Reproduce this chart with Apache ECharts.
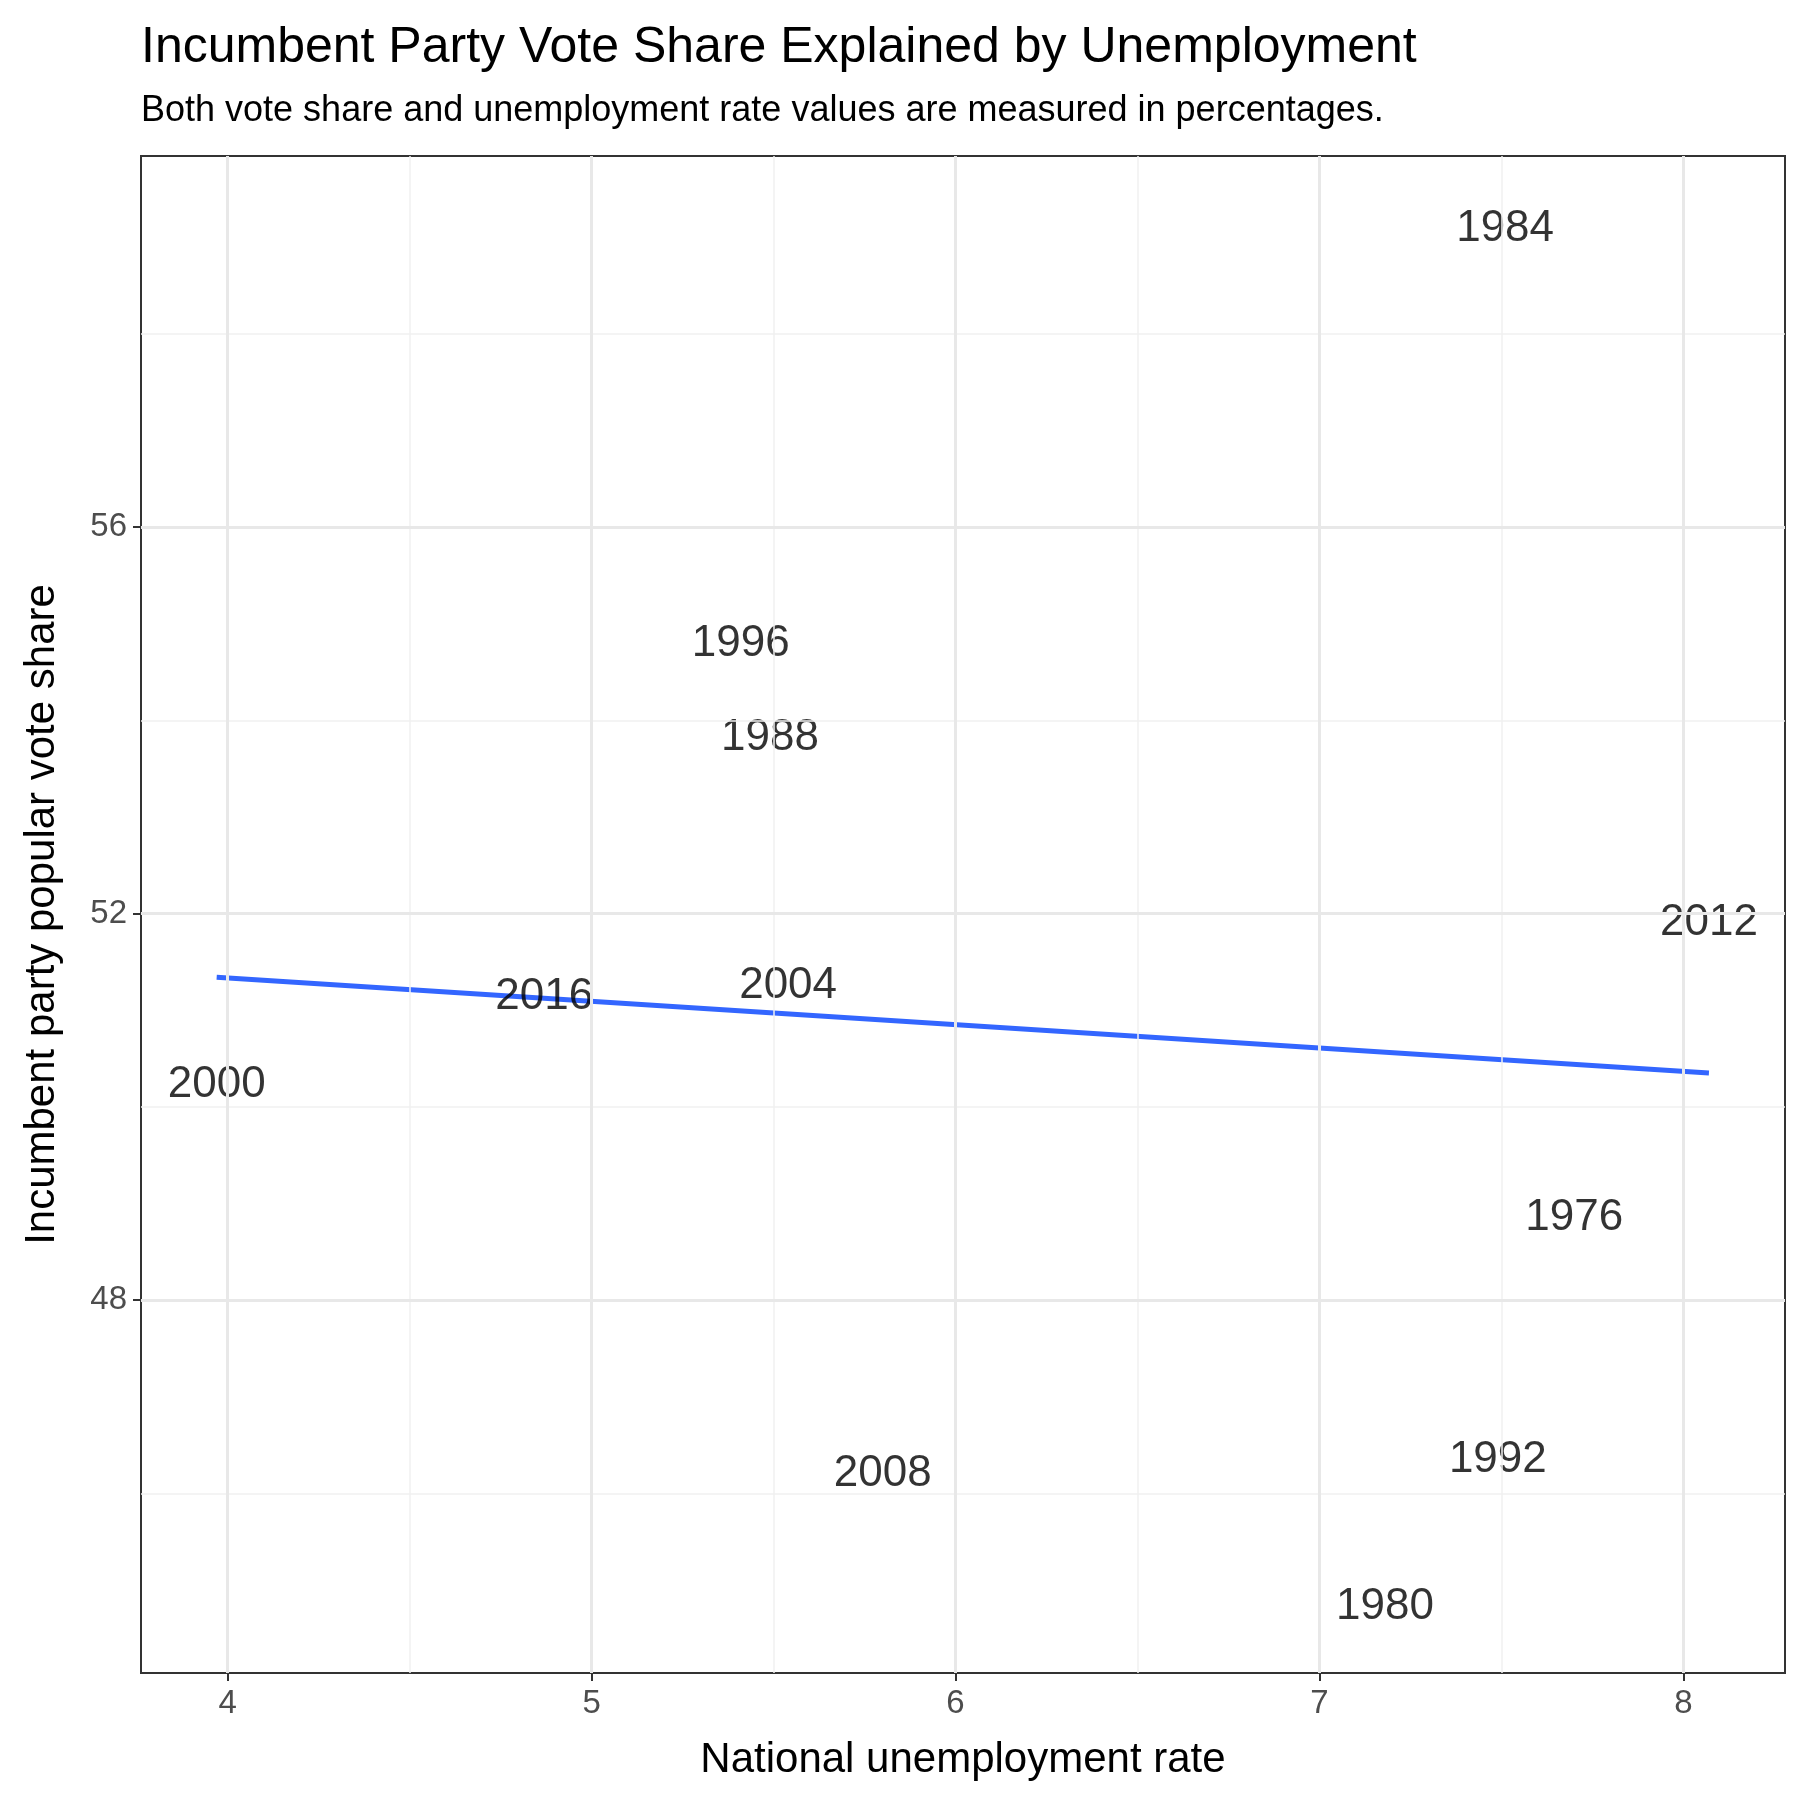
<!DOCTYPE html>
<html>
<head>
<meta charset="utf-8">
<script src="https://cdn.jsdelivr.net/npm/echarts@6/dist/echarts.min.js"></script>
<style>html,body{margin:0;padding:0;background:#fff}#chart{width:1800px;height:1800px}</style>
</head>
<body>
<div id="chart"></div>
<script>
// data
const years = ['1976', '1980', '1984', '1988', '1992', '1996', '2000', '2004', '2008', '2012', '2016'];
const unemployment = [7.70, 7.18, 7.51, 5.49, 7.49, 5.41, 3.97, 5.54, 5.80, 8.07, 4.87];
const voteShare = [48.85, 44.82, 59.09, 53.82, 46.35, 54.79, 50.23, 51.25, 46.2, 51.9, 51.14];
const fitLine = [[3.97, 51.34], [8.07, 50.35]];
const xTicks = [4, 5, 6, 7, 8];
const yTicks = [48, 52, 56];
const xMinor = [4.5, 5.5, 6.5, 7.5];
const yMinor = [46, 50, 54, 58];

const font = 'Arial, "Liberation Sans", sans-serif';
const gridLine = (color, w) => ({ silent: true, symbol: 'none', label: { show: false },
    lineStyle: { color: color, width: w, type: 'solid' } });

const chart = echarts.init(document.getElementById('chart'));
chart.setOption({
    animation: false,
    title: {
        text: 'Incumbent Party Vote Share Explained by Unemployment',
        subtext: 'Both vote share and unemployment rate values are measured in percentages.',
        left: 136, top: 18, itemGap: 20,
        textStyle: { fontFamily: font, fontSize: 50, fontWeight: 'normal', color: '#000' },
        subtextStyle: { fontFamily: font, fontSize: 36, color: '#000' }
    },
    grid: { left: 141, right: 15, top: 156, bottom: 127, show: true, borderColor: '#333', borderWidth: 2 },
    xAxis: {
        type: 'value', min: 3.762, max: 8.279,
        name: 'National unemployment rate', nameLocation: 'middle', nameGap: 66,
        nameTextStyle: { fontFamily: font, fontSize: 42, color: '#000' },
        axisLine: { show: false },
        axisTick: { show: true, customValues: xTicks, length: 8, lineStyle: { color: '#333', width: 2 } },
        axisLabel: { customValues: xTicks, fontFamily: font, fontSize: 33, color: '#4d4d4d', margin: 14 },
        splitLine: { show: false }
    },
    yAxis: {
        type: 'value', min: 44.14, max: 59.84,
        name: 'Incumbent party popular vote share', nameLocation: 'middle', nameGap: 78,
        nameTextStyle: { fontFamily: font, fontSize: 42, color: '#000' },
        axisLine: { show: false },
        axisTick: { show: true, customValues: yTicks, length: 8, lineStyle: { color: '#333', width: 2 } },
        axisLabel: { customValues: yTicks, fontFamily: font, fontSize: 33, color: '#4d4d4d', margin: 14 },
        splitLine: { show: false }
    },
    series: [
        {
            type: 'line', data: [], markLine: Object.assign(gridLine('#f0f0f0', 1.5), {
                data: xMinor.map(v => ({ xAxis: v })).concat(yMinor.map(v => ({ yAxis: v })))
            })
        },
        {
            type: 'line', data: [], markLine: Object.assign(gridLine('#e8e8e8', 3), {
                data: xTicks.map(v => ({ xAxis: v })).concat(yTicks.map(v => ({ yAxis: v })))
            })
        },
        {
            type: 'line', data: fitLine, showSymbol: false, z: 3,
            lineStyle: { color: '#3366ff', width: 5 }
        },
        {
            type: 'scatter', symbolSize: 0, z: 4,
            data: unemployment.map((u, i) => [u, voteShare[i], years[i]]),
            label: {
                show: true, position: 'inside', formatter: p => p.data[2],
                fontFamily: font, fontSize: 44, color: '#000', textBorderWidth: 0
            }
        }
    ]
});
</script>
</body>
</html>
